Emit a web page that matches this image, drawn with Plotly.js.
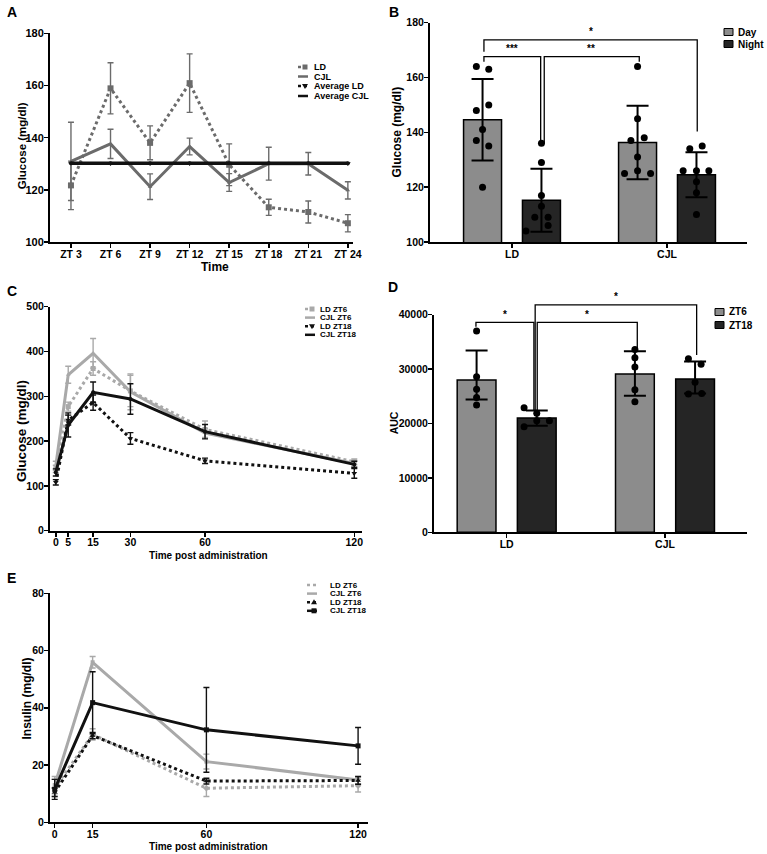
<!DOCTYPE html>
<html><head><meta charset="utf-8">
<script src="https://cdn.plot.ly/plotly-3.0.1.min.js"></script>
<style>html,body{margin:0;padding:0;background:#fff}#chart{width:767px;height:854px}</style>
</head><body><div id="chart"></div>
<script>
// ---------- Panel A data ----------
const ztLabels = ['ZT 3','ZT 6','ZT 9','ZT 12','ZT 15','ZT 18','ZT 21','ZT 24'];
const aLD      = [121.7, 158.9, 138.0, 160.9, 129.6, 113.3, 111.5, 107.2];
const aLDerr   = [9.3, 9.8, 6.5, 11.2, 8.0, 3.1, 4.2, 3.3];
const aCJL     = [130.9, 137.6, 121.2, 136.6, 122.8, 130.0, 130.0, 119.8];
const aCJLerr  = [15.0, 5.6, 4.9, 3.2, 3.4, 6.3, 4.3, 3.3];
const aAvgLD   = [130.1, 130.1, 130.1, 130.1, 130.1, 130.1, 130.1, 130.1];
const aAvgCJL  = [130.2, 130.2, 130.2, 130.2, 130.2, 130.2, 130.2, 130.2];

// ---------- Panel B data ----------
const groups = ['LD', 'CJL'];
const bDayMean = [144.6, 136.3];
const bDayErr = [14.9, 13.4];
const bNightMean = [115.2, 124.5];
const bNightErr = [11.5, 8.2];
const bDayPts = [[164, 163, 148, 150, 141, 137, 135, 120], [164, 145, 137, 138, 131, 125, 126, 125]];
const bDayJit = [[-0.04, 0.04, -0.04, 0.04, 0, -0.04, 0.04, 0], [0, 0, -0.043, 0.043, 0, -0.084, 0, 0.084]];
const bNightPts = [[136, 129, 117, 113, 109, 109, 106, 104], [134, 135, 126, 126, 126, 122, 118, 110]];
const bNightJit = [[0, 0, 0, 0, -0.043, 0.043, 0.043, -0.1], [-0.043, 0.037, -0.086, 0, 0.08, 0, 0, 0]];

// ---------- Panel C data ----------
const cTime = [0, 5, 15, 30, 60, 120];
const cLDZT6 = [138, 277, 362, 312, 226, 154];
const cLDZT6err = [8, 10, 15, 35, 19, 6];
const cCJLZT6 = [145, 348, 396, 310, 218, 150];
const cCJLZT6err = [10, 19, 33, 40, 10, 6];
const cLDZT18 = [108, 247, 286, 206, 156, 128];
const cLDZT18err = [6, 11, 17, 13, 6, 11];
const cCJLZT18 = [130, 236, 309, 294, 221, 148];
const cCJLZT18err = [8, 27, 23, 34, 16, 7];

// ---------- Panel D data ----------
const dZT6Mean = [28000, 29100];
const dZT6ErrPlus = [5400, 4200];
const dZT6ErrMinus = [3600, 4000];
const dZT18Mean = [21000, 28200];
const dZT18ErrPlus = [1400, 3200];
const dZT18ErrMinus = [1400, 2700];
const dZT6Pts = [[37000, 28600, 26300, 24800, 23400], [33600, 32100, 30400, 26200, 24000]];
const dZT6Jit = [[0, 0, 0, 0, 0], [0, 0, 0, 0, 0]];
const dZT18Pts = [[22900, 21900, 20500, 20500, 19400], [31900, 30900, 27600, 25400, 25500]];
const dZT18Jit = [[-0.08, 0, 0, 0.08, -0.08], [-0.042, 0.038, 0, -0.042, 0.042]];

// ---------- Panel E data ----------
const eTime = [0, 15, 60, 120];
const eLDZT6 = [12.0, 30.7, 11.9, 12.8];
const eLDZT6err = [3.0, 2.0, 2.9, 2.2];
const eCJLZT6 = [13.0, 55.9, 21.2, 14.8];
const eCJLZT6err = [3.0, 2.0, 2.6, 1.4];
const eLDZT18 = [10.5, 30.3, 14.4, 14.6];
const eLDZT18err = [1.5, 1.1, 1.0, 1.3];
const eCJLZT18 = [11.5, 41.8, 32.3, 26.7];
const eCJLZT18err = [3.5, 10.8, 14.8, 6.4];

// ---------- styling ----------
const F = 'Liberation Sans, Arial, sans-serif';
const W = 767, H = 854;
const px = x => x / W;
const py = y => 1 - y / H;
const DARK = '#6b6b6b', LIGHT = '#a9a9a9', BLK = '#111111';
const DAYC = '#8c8c8c', NIGHTC = '#252525';
const DOT = '3px,3px';

function errCfg(arr, color, w) {
  return {type: 'data', array: arr, visible: true, color: color, thickness: 1.4, width: w || 3};
}
function lineTrace(x, y, err, color, dash, width, symbol, msize, xa, ya) {
  return {type: 'scatter', mode: 'lines+markers', x: x, y: y, xaxis: xa, yaxis: ya,
    line: {color: color, width: width, dash: dash}, marker: {color: color, symbol: symbol, size: msize},
    error_y: err ? errCfg(err, color) : {visible: false}, showlegend: false, cliponaxis: false};
}
function barTrace(means, errP, errM, color, offset, xa, ya) {
  return {type: 'bar', x: [0, 1], y: means, xaxis: xa, yaxis: ya, width: 0.245, offset: offset,
    marker: {color: color, line: {color: '#000', width: 1.5}},
    error_y: {type: 'data', array: errP, arrayminus: errM, visible: true, color: '#000', thickness: 2, width: 11},
    showlegend: false};
}
function ptsTrace(pts, jit, center, xa, ya) {
  const xs = [], ys = [];
  pts.forEach((g, gi) => g.forEach((v, i) => { xs.push(gi + center + jit[gi][i]); ys.push(v); }));
  return {type: 'scatter', mode: 'markers', x: xs, y: ys, xaxis: xa, yaxis: ya,
    marker: {color: '#000', size: 7}, showlegend: false, cliponaxis: false};
}

const traces = [];
// Panel A
const zi = ztLabels.map((_, i) => i);
traces.push(lineTrace(zi, aAvgLD, null, BLK, DOT, 3, 'triangle-down', 5, 'x', 'y'));
traces.push(lineTrace(zi, aLD, aLDerr, DARK, DOT, 3, 'square', 6, 'x', 'y'));
traces.push(lineTrace(zi, aCJL, aCJLerr, DARK, 'solid', 3, 'triangle-up', 4, 'x', 'y'));
traces.push(lineTrace(zi, aAvgCJL, null, BLK, 'solid', 3.5, 'circle', 4, 'x', 'y'));

// Panel B
traces.push(barTrace(bDayMean, bDayErr, bDayErr, DAYC, -0.3125, 'x2', 'y2'));
traces.push(barTrace(bNightMean, bNightErr, bNightErr, NIGHTC, 0.0675, 'x2', 'y2'));
traces.push(ptsTrace(bDayPts, bDayJit, -0.19, 'x2', 'y2'));
traces.push(ptsTrace(bNightPts, bNightJit, 0.19, 'x2', 'y2'));

// Panel C
traces.push(lineTrace(cTime, cLDZT6, cLDZT6err, LIGHT, DOT, 3, 'square', 5, 'x3', 'y3'));
traces.push(lineTrace(cTime, cCJLZT6, cCJLZT6err, LIGHT, 'solid', 3, 'triangle-up', 4, 'x3', 'y3'));
traces.push(lineTrace(cTime, cLDZT18, cLDZT18err, BLK, DOT, 3, 'triangle-down', 5, 'x3', 'y3'));
traces.push(lineTrace(cTime, cCJLZT18, cCJLZT18err, BLK, 'solid', 3, 'circle', 4, 'x3', 'y3'));

// Panel D
traces.push(barTrace(dZT6Mean, dZT6ErrPlus, dZT6ErrMinus, DAYC, -0.3125, 'x4', 'y4'));
traces.push(barTrace(dZT18Mean, dZT18ErrPlus, dZT18ErrMinus, NIGHTC, 0.0675, 'x4', 'y4'));
traces.push(ptsTrace(dZT6Pts, dZT6Jit, -0.19, 'x4', 'y4'));
traces.push(ptsTrace(dZT18Pts, dZT18Jit, 0.19, 'x4', 'y4'));

// Panel E
traces.push(lineTrace(eTime, eLDZT6, eLDZT6err, LIGHT, DOT, 3, 'diamond', 5, 'x5', 'y5'));
traces.push(lineTrace(eTime, eCJLZT6, eCJLZT6err, LIGHT, 'solid', 3, 'square', 4, 'x5', 'y5'));
traces.push(lineTrace(eTime, eLDZT18, eLDZT18err, BLK, DOT, 3, 'triangle-up', 5, 'x5', 'y5'));
traces.push(lineTrace(eTime, eCJLZT18, eCJLZT18err, BLK, 'solid', 3, 'square', 5, 'x5', 'y5'));

const tickF = {family: F, size: 10.5, color: '#000', weight: 'bold'};
function ax(extra) {
  return Object.assign({showline: true, linecolor: '#000', linewidth: 2, ticks: 'outside', ticklen: 4,
    tickwidth: 1.5, tickcolor: '#000', showgrid: false, zeroline: false, tickfont: tickF, fixedrange: true}, extra);
}
const xax = e => ax(Object.assign({ticklabelstandoff: -3}, e));
const yax = e => ax(Object.assign({ticklabelstandoff: -2}, e));

// ---------- manual legends, titles, labels ----------
const shapes = [], annos = [];
function txt(t, x, y, size, opts) {
  annos.push(Object.assign({xref: 'paper', yref: 'paper', x: px(x), y: py(y), xanchor: 'center', yanchor: 'middle',
    showarrow: false, text: t, font: {family: F, size: size, color: '#000', weight: 'bold'}}, opts || {}));
}
function legendLine(x0, x1, y, color, dash, marker, label, fs, tx) {
  shapes.push({type: 'line', xref: 'paper', yref: 'paper', x0: px(x0), x1: px(x1), y0: py(y), y1: py(y),
    line: {color: color, width: 2.5, dash: dash}});
  const mx = (x0 + x1) / 2 + 2;
  if (marker === 'square') {
    shapes.push({type: 'rect', xref: 'paper', yref: 'paper', x0: px(mx - 2.5), x1: px(mx + 2.5), y0: py(y + 2.5), y1: py(y - 2.5),
      fillcolor: color, line: {width: 0}});
  } else if (marker === 'tri') {
    shapes.push({type: 'path', xref: 'paper', yref: 'paper',
      path: `M ${px(mx - 3)} ${py(y - 2)} L ${px(mx + 3)} ${py(y - 2)} L ${px(mx)} ${py(y + 3)} Z`, fillcolor: color, line: {width: 0}});
  } else if (marker === 'triup') {
    shapes.push({type: 'path', xref: 'paper', yref: 'paper',
      path: `M ${px(mx - 3)} ${py(y + 2)} L ${px(mx + 3)} ${py(y + 2)} L ${px(mx)} ${py(y - 3)} Z`, fillcolor: color, line: {width: 0}});
  }
  txt(label, tx, y, fs, {xanchor: 'left'});
}
function legendBox(x0, y, color, label, fs) {
  shapes.push({type: 'rect', xref: 'paper', yref: 'paper', x0: px(x0), x1: px(x0 + 9), y0: py(y + 3.5), y1: py(y - 3.5),
    fillcolor: color, line: {color: '#000', width: 1}});
  txt(label, x0 + 12, y, fs, {xanchor: 'left'});
}
// A legend
legendLine(298, 308, 67, DARK, DOT, 'square', 'LD', 9, 312);
legendLine(298, 308, 76.5, DARK, 'solid', 'none', 'CJL', 9, 312);
legendLine(298, 308, 86, BLK, DOT, 'tri', 'Average LD', 9, 312);
legendLine(298, 308, 96, BLK, 'solid', 'none', 'Average CJL', 9, 312);
// B legend
legendBox(724, 32, DAYC, 'Day', 10);
legendBox(724, 44, NIGHTC, 'Night', 10);
// C legend
legendLine(305, 315, 309, LIGHT, DOT, 'square', 'LD ZT6', 8, 318);
legendLine(305, 315, 317.6, LIGHT, 'solid', 'none', 'CJL ZT6', 8, 318);
legendLine(305, 315, 326.2, BLK, DOT, 'tri', 'LD ZT18', 8, 318);
legendLine(305, 315, 334.8, BLK, 'solid', 'none', 'CJL ZT18', 8, 318);
// D legend
legendBox(715, 312, DAYC, 'ZT6', 10);
legendBox(715, 325, NIGHTC, 'ZT18', 10);
// E legend
legendLine(307, 317, 585, LIGHT, DOT, 'none', 'LD ZT6', 8, 328);
legendLine(307, 317, 593.6, LIGHT, 'solid', 'none', 'CJL ZT6', 8, 328);
legendLine(307, 317, 602.2, BLK, DOT, 'triup', 'LD ZT18', 8, 328);
legendLine(307, 317, 610.8, BLK, 'solid', 'square', 'CJL ZT18', 8, 328);

// panel letters
[['A', 5, 12.5], ['B', 387, 12.5], ['C', 5, 291], ['D', 386, 287], ['E', 5, 578]].forEach(p => {
  txt(p[0], p[1], p[2], 14, {xanchor: 'left'});
});

// axis titles
txt('Glucose (mg/dl)', 21.5, 145.8, 11.5, {textangle: -90});
txt('Time', 214.7, 266.7, 12);
txt('Glucose (mg/dl)', 396, 132.5, 12, {textangle: -90});
txt('Glucose (mg/dl)', 21.5, 431.5, 13.5, {textangle: -90});
txt('Time post administration', 208, 555, 10);
txt('AUC', 394, 423.3, 10.5, {textangle: -90});
txt('Insulin (mg/dl)', 26.5, 699, 12, {textangle: -90});
txt('Time post administration', 208.3, 846.5, 10);

// significance brackets B (data coords)
const brLine = {color: '#000', width: 1.3};
shapes.push({type: 'path', xref: 'x2', yref: 'y2', path: 'M -0.181 169.4 L -0.181 173.7 L 1.195 173.7 L 1.195 140.3', line: brLine});
shapes.push({type: 'path', xref: 'x2', yref: 'y2', path: 'M -0.181 165.8 L -0.181 167.6 L 0.185 167.6 L 0.185 136.1', line: brLine});
shapes.push({type: 'path', xref: 'x2', yref: 'y2', path: 'M 0.208 136.1 L 0.208 167.6 L 0.821 167.6 L 0.821 165.8', line: brLine});
const starF = {family: F, size: 10, color: '#000', weight: 'bold'};
annos.push({xref: 'x2', yref: 'y2', x: 0.507, y: 173.9, yanchor: 'bottom', showarrow: false, text: '*', font: starF});
annos.push({xref: 'x2', yref: 'y2', x: 0.0, y: 167.8, yanchor: 'bottom', showarrow: false, text: '***', font: starF});
annos.push({xref: 'x2', yref: 'y2', x: 0.51, y: 167.8, yanchor: 'bottom', showarrow: false, text: '**', font: starF});

// significance brackets D (x data, y in domain fraction)
shapes.push({type: 'path', xref: 'x4', yref: 'y4 domain', path: 'M -0.194 0.945 L -0.194 0.965 L 0.172 0.965 L 0.172 0.5625', line: brLine});
shapes.push({type: 'path', xref: 'x4', yref: 'y4 domain', path: 'M 0.193 0.5625 L 0.193 0.965 L 0.825 0.965 L 0.825 0.8375', line: brLine});
shapes.push({type: 'path', xref: 'x4', yref: 'y4 domain', path: 'M 0.18 0.5625 L 0.18 1.045 L 1.2 1.045 L 1.2 0.815', line: brLine});
annos.push({xref: 'x4', yref: 'y4 domain', x: -0.011, y: 0.968, yanchor: 'bottom', showarrow: false, text: '*', font: starF});
annos.push({xref: 'x4', yref: 'y4 domain', x: 0.509, y: 0.968, yanchor: 'bottom', showarrow: false, text: '*', font: starF});
annos.push({xref: 'x4', yref: 'y4 domain', x: 0.69, y: 1.048, yanchor: 'bottom', showarrow: false, text: '*', font: starF});

const layout = {
  width: W, height: H, margin: {l: 0, r: 0, t: 0, b: 0}, paper_bgcolor: '#fff', plot_bgcolor: 'rgba(0,0,0,0)',
  showlegend: false, barmode: 'overlay',
  xaxis: xax({domain: [px(50), px(353)], anchor: 'y', range: [-0.53, 7.13], tickvals: zi, ticktext: ztLabels}),
  yaxis: yax({domain: [py(242), py(33.3)], anchor: 'x', range: [100, 180], dtick: 20, tickfont: Object.assign({}, tickF, {size: 11})}),
  xaxis2: xax({domain: [px(430), px(747)], anchor: 'y2', range: [-0.529, 1.516], tickvals: [0, 1], ticktext: groups}),
  yaxis2: yax({domain: [py(242), py(22.7)], anchor: 'x2', range: [100, 180], dtick: 20}),
  xaxis3: xax({domain: [px(50), px(362)], anchor: 'y3', range: [-2.33, 123.1], tickvals: cTime}),
  yaxis3: yax({domain: [py(530.7), py(306.7)], anchor: 'x3', range: [0, 500], dtick: 100}),
  xaxis4: xax({domain: [px(434), px(747)], anchor: 'y4', range: [-0.459, 1.518], tickvals: [0, 1], ticktext: groups}),
  yaxis4: yax({domain: [py(532.3), py(314.7)], anchor: 'x4', range: [0, 40000], dtick: 10000, tickformat: 'd'}),
  xaxis5: xax({domain: [px(50), px(367.7)], anchor: 'y5', range: [-1.86, 123.8], tickvals: eTime}),
  yaxis5: yax({domain: [py(822.3), py(593.3)], anchor: 'x5', range: [0, 80], dtick: 20}),
  shapes: shapes, annotations: annos
};
Plotly.newPlot('chart', traces, layout, {displayModeBar: false, staticPlot: true});
</script></body></html>
